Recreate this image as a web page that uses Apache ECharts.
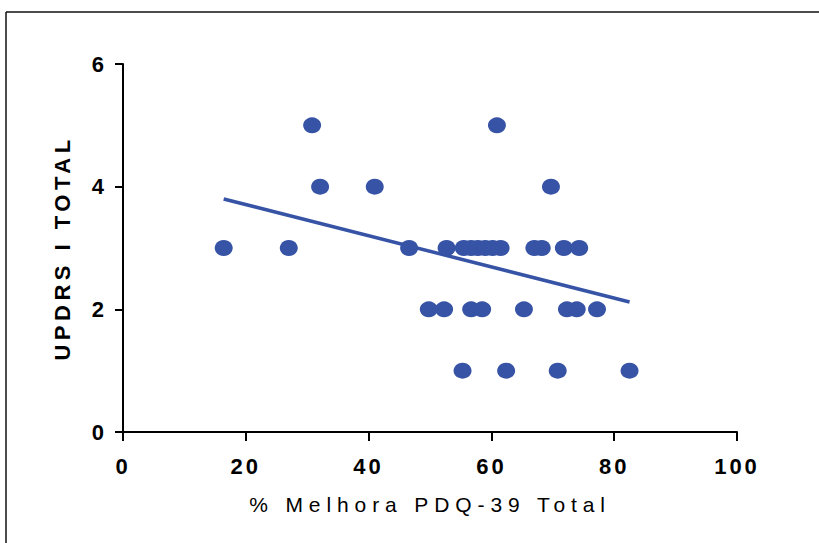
<!DOCTYPE html>
<html>
<head>
<meta charset="utf-8">
<script src="https://cdn.jsdelivr.net/npm/echarts@6/dist/echarts.min.js"></script>
<style>
html,body{margin:0;padding:0;background:#fff;}
#c{width:819px;height:543px;}
</style>
</head>
<body>
<div id="c"></div>
<script>
// Data
const xName = '% Melhora PDQ-39 Total';
const yName = 'UPDRS I TOTAL';
const xTicks = [0, 20, 40, 60, 80, 100];
const yTicks = [0, 2, 4, 6];
const pdqX = [30.8, 60.9,
              32.1, 41.0, 69.7,
              16.4, 27.0, 46.6, 52.7, 55.5, 56.7, 57.8, 59.0, 60.2, 61.5, 67.0, 68.2, 71.8, 74.3,
              49.8, 52.3, 56.7, 58.5, 65.3, 72.3, 73.9, 77.2,
              55.3, 62.4, 70.8, 82.5];
const updrsY = [5, 5,
                4, 4, 4,
                3, 3, 3, 3, 3, 3, 3, 3, 3, 3, 3, 3, 3, 3,
                2, 2, 2, 2, 2, 2, 2, 2,
                1, 1, 1, 1];
const fitX = [16.4, 82.5];
const fitY = [3.80, 2.12];

const blue = '#3653A5';
const points = pdqX.map((x, i) => [x, updrsY[i]]);
const fitLine = fitX.map((x, i) => [x, fitY[i]]);

const chart = echarts.init(document.getElementById('c'), null, {renderer: 'svg'});
chart.setOption({
  animation: false,
  backgroundColor: '#fff',
  grid: {left: 123, right: 82, top: 64, bottom: 111, containLabel: false},
  xAxis: {
    type: 'value', min: xTicks[0], max: xTicks[xTicks.length - 1], interval: 20,
    splitLine: {show: false},
    axisLine: {show: true, onZero: false, lineStyle: {color: '#000', width: 2}},
    axisTick: {show: true, length: 9, lineStyle: {color: '#000', width: 2}},
    axisLabel: {margin: 23, color: '#000', fontFamily: 'Liberation Sans', fontWeight: 'bold', fontSize: 22},
    name: xName, nameLocation: 'middle', nameGap: 62,
    nameTextStyle: {color: '#000', fontFamily: 'Liberation Sans', fontSize: 21}
  },
  yAxis: {
    type: 'value', min: yTicks[0], max: yTicks[yTicks.length - 1], interval: 2,
    splitLine: {show: false},
    axisLine: {show: true, onZero: false, lineStyle: {color: '#000', width: 2}},
    axisTick: {show: true, length: 8, lineStyle: {color: '#000', width: 2}},
    axisLabel: {margin: 16, color: '#000', fontFamily: 'Liberation Sans', fontWeight: 'bold', fontSize: 22},
    name: yName, nameLocation: 'middle', nameGap: 50,
    nameTextStyle: {color: '#000', fontFamily: 'Liberation Sans', fontWeight: 'bold', fontSize: 22}
  },
  graphic: [
    {type: 'line', shape: {x1: 6, y1: 12, x2: 6, y2: 543}, style: {stroke: '#111', lineWidth: 1.5}, silent: true},
    {type: 'line', shape: {x1: 6, y1: 12, x2: 819, y2: 12}, style: {stroke: '#111', lineWidth: 1.5}, silent: true}
  ],
  series: [
    {
      type: 'line', data: fitLine, symbol: 'none', z: 3,
      lineStyle: {color: blue, width: 3.5}
    },
    {
      type: 'scatter', data: points, symbol: 'circle', symbolSize: [18, 16], z: 4,
      itemStyle: {color: blue, opacity: 1}
    }
  ]
});

function applySpacing() {
  document.querySelectorAll('#c text').forEach(t => {
    const s = t.textContent;
    if (s === yName) t.style.letterSpacing = '4.5px';
    else if (s === xName) t.style.letterSpacing = '5.9px';
    else t.style.letterSpacing = '3px';
  });
}
applySpacing();
chart.on('finished', applySpacing);
</script>
</body>
</html>
